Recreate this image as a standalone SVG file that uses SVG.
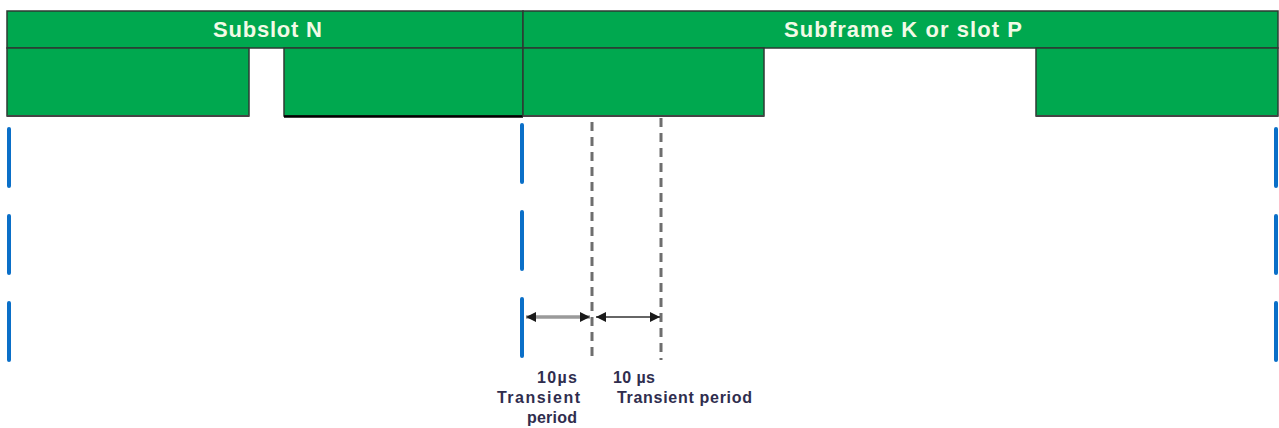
<svg xmlns="http://www.w3.org/2000/svg" width="1279" height="428" viewBox="0 0 1279 428">
<defs>
<style>
.box{fill:#00a84f;stroke:#2e3a33;stroke-width:1.5}
.title{font-family:"Liberation Sans",Arial,sans-serif;font-weight:bold;font-size:22px;fill:#f2fae6}
.lbl{font-family:"Liberation Sans",Arial,sans-serif;font-weight:bold;font-size:16px;fill:#2f2d4e}
.blue{stroke:#0a6fc8;stroke-width:4;stroke-linecap:round;stroke-dasharray:57 30;fill:none}
.gray{stroke:#6e6e6e;stroke-width:3;stroke-dasharray:9 6;fill:none}
</style>
<marker id="ah" viewBox="0 0 10 10" refX="10" refY="5" markerWidth="10" markerHeight="10" markerUnits="userSpaceOnUse" orient="auto-start-reverse">
<path d="M0,0 L10,5 L0,10 z" fill="#1a1a1a"/>
</marker>
</defs>
<g id="subslot-n">
<rect class="box" x="7" y="11" width="516" height="37"/>
<text class="title" x="213" y="37" textLength="109" lengthAdjust="spacing">Subslot N</text>
</g>
<g id="subframe-k">
<rect class="box" x="523" y="11" width="755" height="37"/>
<text class="title" x="784" y="37" textLength="238" lengthAdjust="spacing">Subframe K or slot P</text>
</g>
<g id="block1"><rect class="box" x="7" y="48" width="242" height="68"/><line x1="7" y1="116" x2="249" y2="116" stroke="#444" stroke-width="2"/></g>
<g id="block2"><rect class="box" x="284" y="48" width="239" height="68"/><line x1="284" y1="116.5" x2="523" y2="116.5" stroke="#000" stroke-width="2.5"/></g>
<g id="block3"><rect class="box" x="523" y="48" width="241" height="68"/><line x1="523" y1="116" x2="764" y2="116" stroke="#444" stroke-width="2"/></g>
<g id="block4"><rect class="box" x="1036" y="48" width="242" height="68"/><line x1="1036" y1="116" x2="1278" y2="116" stroke="#444" stroke-width="2"/></g>
<g id="connectors">
<line class="blue" x1="9" y1="129" x2="9" y2="360"/>
<line class="blue" x1="522" y1="125" x2="522" y2="360"/>
<line class="blue" x1="1276" y1="129" x2="1276" y2="360"/>
<line class="gray" x1="592" y1="122" x2="592" y2="360"/>
<line class="gray" x1="661" y1="118" x2="661" y2="360"/>
<line x1="526" y1="317" x2="590" y2="317" stroke="#9a9a9a" stroke-width="3.5" marker-start="url(#ah)" marker-end="url(#ah)"/>
<line x1="596" y1="317" x2="660" y2="317" stroke="#333" stroke-width="1.5" marker-start="url(#ah)" marker-end="url(#ah)"/>
</g>
<g id="label1">
<text class="lbl" x="537" y="383" textLength="40" lengthAdjust="spacing">10µs</text>
<text class="lbl" x="497" y="403" textLength="83" lengthAdjust="spacing">Transient</text>
<text class="lbl" x="527" y="423" textLength="50" lengthAdjust="spacing">period</text>
</g>
<g id="label2">
<text class="lbl" x="613" y="383" textLength="42" lengthAdjust="spacing">10 µs</text>
<text class="lbl" x="617" y="403" textLength="135" lengthAdjust="spacing">Transient period</text>
</g>
</svg>
